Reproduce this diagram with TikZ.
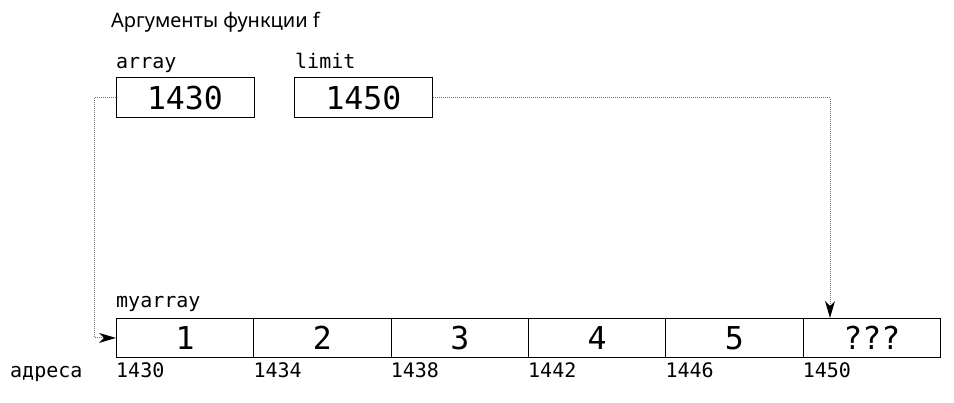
\documentclass[tikz,border=0pt]{standalone}
\usepackage{fontspec}
\setmainfont{Noto Sans}
\setmonofont{DejaVu Sans Mono}
\usetikzlibrary{arrows.meta}
\tikzset{
  cellbox/.style={draw=black, line width=0.9pt, minimum width=137.33pt, minimum height=39pt, inner sep=0pt, anchor=north west, font=\ttfamily\fontsize{31.5}{36}\selectfont},
  argbox/.style={draw=black, line width=0.9pt, minimum width=138pt, minimum height=40pt, inner sep=0pt, anchor=north west, font=\ttfamily\fontsize{31.5}{36}\selectfont},
  lbl/.style={anchor=base west, inner sep=0pt, font=\ttfamily\fontsize{20}{24}\selectfont},
  titlelbl/.style={anchor=base west, inner sep=0pt, font=\fontsize{20}{24}\selectfont},
  ptr/.style={draw=black!55, line width=1pt, dash pattern=on 1pt off 1pt, -{Stealth[length=17pt,width=10pt,inset=5pt,black,line width=0pt]}}
}
\begin{document}
\begin{tikzpicture}[x=1pt,y=-1pt]
\useasboundingbox (0,0) rectangle (954,403);
\node[titlelbl] (title) at (111,28) {Аргументы функции f};
\node[lbl] (larr) at (116,69) {array};
\node[lbl] (llim) at (295,69) {limit};
\node[argbox] (arr) at (115.5,77.5) {1430};
\node[argbox] (lim) at (294,77.5) {1450};
\node[lbl] (lmy) at (116,308) {myarray};
\node[cellbox] (c1) at (116,318) {1};
\node[cellbox] (c2) at (253.33,318) {2};
\node[cellbox] (c3) at (390.67,318) {3};
\node[cellbox] (c4) at (528,318) {4};
\node[cellbox] (c5) at (665.33,318) {5};
\node[cellbox] (c6) at (802.67,318) {???};
\node[lbl] (addr) at (10,378) {адреса};
\node[lbl] (a1) at (116,378) {1430};
\node[lbl] (a2) at (253.33,378) {1434};
\node[lbl] (a3) at (390.67,378) {1438};
\node[lbl] (a4) at (528,378) {1442};
\node[lbl] (a5) at (665.33,378) {1446};
\node[lbl] (a6) at (802.67,378) {1450};
\coordinate (bend1) at (94,95);
\coordinate (tgt) at (830,318);
\draw[ptr] (arr.west) -- (arr.west -| bend1) |- (c1.west);
\draw[ptr] (lim.east) -| (tgt);
\end{tikzpicture}
\end{document}
